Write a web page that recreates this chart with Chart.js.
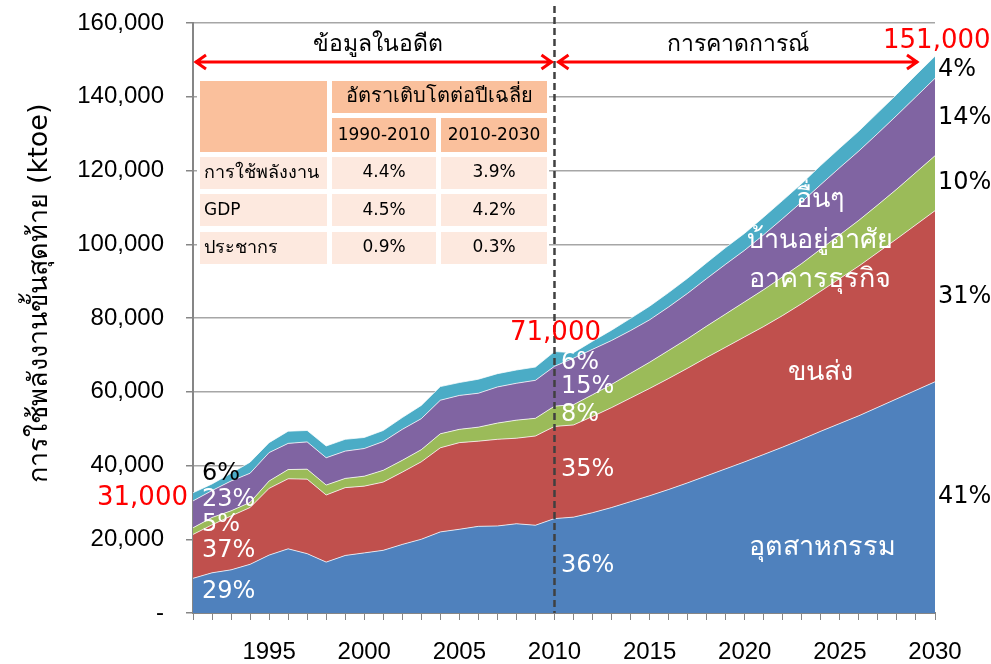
<!DOCTYPE html>
<html>
<head>
<meta charset="utf-8">
<script src="https://cdn.jsdelivr.net/npm/chart.js@4.4.1/dist/chart.umd.min.js"></script>
<style>
  html, body { margin: 0; padding: 0; background: #fff; }
  #wrap { width: 991px; height: 664px; }
</style>
</head>
<body>
<div id="wrap"><canvas id="c" width="991" height="664"></canvas></div>
<script>
// --- ข้อมูล (ktoe) ---
const years = [1991, 1992, 1993, 1994, 1995, 1996, 1997, 1998, 1999, 2000,
               2001, 2002, 2003, 2004, 2005, 2006, 2007, 2008, 2009, 2010,
               2011, 2012, 2013, 2014, 2015, 2016, 2017, 2018, 2019, 2020,
               2021, 2022, 2023, 2024, 2025, 2026, 2027, 2028, 2029, 2030];

const industry = [9400, 10900, 11700, 13200, 15700, 17400, 16100, 13800, 15600, 16300,
                  17000, 18600, 20000, 22000, 22700, 23500, 23600, 24200, 23800, 25600,
                  26000, 27200, 28600, 30200, 31800, 33500, 35300, 37200, 39100, 41000,
                  43000, 45000, 47100, 49300, 51400, 53500, 55800, 58100, 60400, 62700];
const transport = [11900, 13000, 14600, 15400, 18100, 19000, 20200, 18200, 18400, 18100,
                   18500, 19600, 21000, 22800, 23500, 23100, 23500, 23200, 24200, 25000,
                   25000, 26100, 27100, 28100, 29100, 30100, 31100, 32100, 33000, 33900,
                   34700, 35700, 36800, 38000, 39300, 40600, 42000, 43400, 44900, 46400];
const commercial = [1800, 2000, 1400, 1400, 2000, 2500, 2700, 2700, 2500, 2700,
                    3200, 3200, 3300, 3800, 3600, 3800, 4400, 4900, 4800, 5500,
                    5500, 5900, 6300, 6700, 7100, 7600, 8000, 8500, 9000, 9500,
                    10000, 10500, 10900, 11400, 11900, 12400, 12900, 13500, 14200, 14900];
const residential = [7300, 7300, 8100, 7900, 7700, 7100, 7400, 7400, 7400, 7500,
                     7800, 8400, 8400, 9100, 9200, 9200, 9800, 10000, 10300, 10800,
                     12600, 12300, 11900, 11600, 11500, 11800, 12300, 12900, 13500, 14000,
                     14900, 15800, 16700, 17500, 18200, 18800, 19400, 20000, 20500, 21000];
const other = [2200, 1800, 2100, 3000, 2700, 3300, 3100, 3200, 3200, 3000,
               3000, 3200, 3600, 3700, 3500, 3800, 3600, 3600, 3600, 4000,
               1500, 2200, 2800, 3300, 3700, 3900, 4100, 4300, 4500, 4600,
               4800, 4900, 5000, 5200, 5300, 5400, 5600, 5700, 5900, 6000];

const seriesNames = ['อุตสาหกรรม', 'ขนส่ง', 'อาคารธุรกิจ', 'บ้านอยู่อาศัย', 'อื่นๆ'];
const yTicks = [0, 20000, 40000, 60000, 80000, 100000, 120000, 140000, 160000];

// ตารางอัตราเติบโต
const tableHead = ['อัตราเติบโตต่อปีเฉลี่ย', '1990-2010', '2010-2030'];
const tableRows = ['การใช้พลังงาน', 'GDP', 'ประชากร'];
const growthPast = ['4.4%', '4.5%', '0.9%'];
const growthFuture = ['3.9%', '4.2%', '0.3%'];

// ป้ายสัดส่วน
const share1991 = ['29%', '37%', '5%', '23%', '6%'];
const share2010 = ['36%', '35%', '8%', '15%', '6%'];
const share2030 = ['41%', '31%', '10%', '14%', '4%'];
const totals = ['31,000', '71,000', '151,000'];

const colors = ['#4F81BD', '#C0504D', '#9BBB59', '#8064A2', '#4BACC6'];
const FONT = 'Tahoma, "DejaVu Sans", sans-serif';

const overlay = {
    id: 'overlay',
    afterDraw(chart) {
        const ctx = chart.ctx;
        const xs = chart.scales.x;
        const x2010 = xs.getPixelForValue(years.indexOf(2010));
        ctx.save();

        // เส้นประแบ่งอดีต / คาดการณ์
        ctx.strokeStyle = '#404040';
        ctx.lineWidth = 2.5;
        ctx.setLineDash([7, 4]);
        ctx.beginPath();
        ctx.moveTo(x2010, 6);
        ctx.lineTo(x2010, chart.chartArea.bottom);
        ctx.stroke();
        ctx.setLineDash([]);

        // ลูกศรสีแดง
        const arrow = (x1, x2, y) => {
            ctx.strokeStyle = '#FF0000';
            ctx.lineWidth = 3;
            ctx.beginPath();
            ctx.moveTo(x1, y); ctx.lineTo(x2, y);
            ctx.moveTo(x1 + 11, y - 7); ctx.lineTo(x1 + 1, y); ctx.lineTo(x1 + 11, y + 7);
            ctx.moveTo(x2 - 11, y - 7); ctx.lineTo(x2 - 1, y); ctx.lineTo(x2 - 11, y + 7);
            ctx.stroke();
        };
        arrow(195, x2010 - 2, 62);
        arrow(x2010 + 3, 918, 62);

        ctx.fillStyle = '#000';
        ctx.textAlign = 'center';
        ctx.textBaseline = 'middle';
        ctx.font = '23px ' + FONT;
        ctx.fillText('ข้อมูลในอดีต', 378, 45);
        ctx.fillText('การคาดการณ์', 738, 45);

        // ตาราง
        ctx.fillStyle = '#fff';
        ctx.fillRect(197, 78, 352, 188);
        const dark = '#FAC09C', light = '#FDE9DF';
        ctx.fillStyle = dark;
        ctx.fillRect(200, 81, 127, 71);
        ctx.fillRect(332, 81, 215, 32);
        ctx.fillRect(332, 118, 104, 34);
        ctx.fillRect(441, 118, 106, 34);
        ctx.fillStyle = light;
        [157, 194, 232].forEach(y => {
            ctx.fillRect(200, y, 127, 32);
            ctx.fillRect(332, y, 104, 32);
            ctx.fillRect(441, y, 106, 32);
        });
        ctx.fillStyle = '#000';
        ctx.font = '20px ' + FONT;
        ctx.fillText(tableHead[0], 439, 97);
        ctx.font = '17px ' + FONT;
        ctx.fillText(tableHead[1], 384, 136);
        ctx.fillText(tableHead[2], 494, 136);
        tableRows.forEach((r, i) => {
            const y = 173 + i * 37.5;
            ctx.textAlign = 'left';
            ctx.font = (i === 1 ? '17px ' : '18px ') + FONT;
            ctx.fillText(r, 204, y);
            ctx.textAlign = 'center';
            ctx.font = '17px ' + FONT;
            ctx.fillText(growthPast[i], 384, y);
            ctx.fillText(growthFuture[i], 494, y);
        });

        // ยอดรวม (สีแดง)
        ctx.fillStyle = '#FF0000';
        ctx.font = '26px ' + FONT;
        ctx.textAlign = 'left';
        ctx.fillText(totals[0], 97, 498);
        ctx.fillText(totals[1], 510, 333);
        ctx.fillText(totals[2], 883, 41);

        // สัดส่วน 2030 ด้านขวา
        ctx.fillStyle = '#000';
        ctx.font = '24px ' + FONT;
        const y2030 = [497, 297, 183, 118, 70];
        share2030.forEach((s, i) => ctx.fillText(s, 938, y2030[i]));

        // สัดส่วน 1991
        const y1991 = [592, 551, 525, 500, 474];
        share1991.forEach((s, i) => {
            ctx.fillStyle = i === 4 ? '#000' : '#fff';
            ctx.fillText(s, 202, y1991[i]);
        });
        // สัดส่วน 2010
        ctx.fillStyle = '#fff';
        const y2010 = [566, 470, 415, 387, 363];
        share2010.forEach((s, i) => ctx.fillText(s, 561, y2010[i]));

        // ชื่อภาคเศรษฐกิจ
        ctx.textAlign = 'center';
        ctx.font = '27px ' + FONT;
        const namePos = [[822, 548], [820, 373], [820, 280], [820, 241], [820, 200]];
        seriesNames.forEach((n, i) => ctx.fillText(n, namePos[i][0], namePos[i][1]));

        // ชื่อแกน Y
        ctx.translate(40, 293);
        ctx.rotate(-Math.PI / 2);
        ctx.fillStyle = '#000';
        ctx.font = '27px ' + FONT;
        ctx.fillText('การใช้พลังงานขั้นสุดท้าย (ktoe)', 0, 0);
        ctx.restore();
    }
};

const seriesData = [industry, transport, commercial, residential, other];

new Chart(document.getElementById('c'), {
    type: 'line',
    data: {
        labels: years,
        datasets: seriesData.map((d, i) => ({
            label: seriesNames[i],
            data: d,
            backgroundColor: colors[i],
            borderColor: 'rgba(255,255,255,0.75)',
            borderWidth: 1,
            pointRadius: 0,
            tension: 0,
            fill: i === 0 ? 'origin' : '-1'
        }))
    },
    options: {
        responsive: false,
        animation: false,
        layout: { padding: { left: 0, right: 56, top: 23, bottom: 0 } },
        plugins: { legend: { display: false }, tooltip: { enabled: false } },
        scales: {
            x: {
                offset: false,
                grid: { drawOnChartArea: false, drawTicks: true, tickLength: 7, color: '#868686' },
                border: { color: '#868686', width: 2 },
                ticks: {
                    autoSkip: false, maxRotation: 0, padding: 18,
                    color: '#000', font: { size: 24, family: '"Liberation Sans", Arial, sans-serif' },
                    callback: (v, i) => (years[i] % 5 === 0 ? String(years[i]) : '')
                },
                afterFit: s => { s.height = 51; s.paddingLeft = 0; s.paddingRight = 0; }
            },
            y: {
                stacked: true, min: 0, max: 160000,
                afterBuildTicks: s => { s.ticks = yTicks.map(v => ({ value: v })); },
                grid: { color: '#A6A6A6', lineWidth: 1.5, tickLength: 7, tickColor: '#868686' },
                border: { color: '#868686', width: 2 },
                ticks: {
                    padding: 22, color: '#000',
                    font: { size: 24, family: '"Liberation Sans", Arial, sans-serif' },
                    callback: v => (v === 0 ? '-' : v.toLocaleString('en-US'))
                },
                afterFit: s => { s.width = 193; s.paddingTop = 0; s.paddingBottom = 0; }
            }
        }
    },
    plugins: [overlay]
});
</script>
</body>
</html>
